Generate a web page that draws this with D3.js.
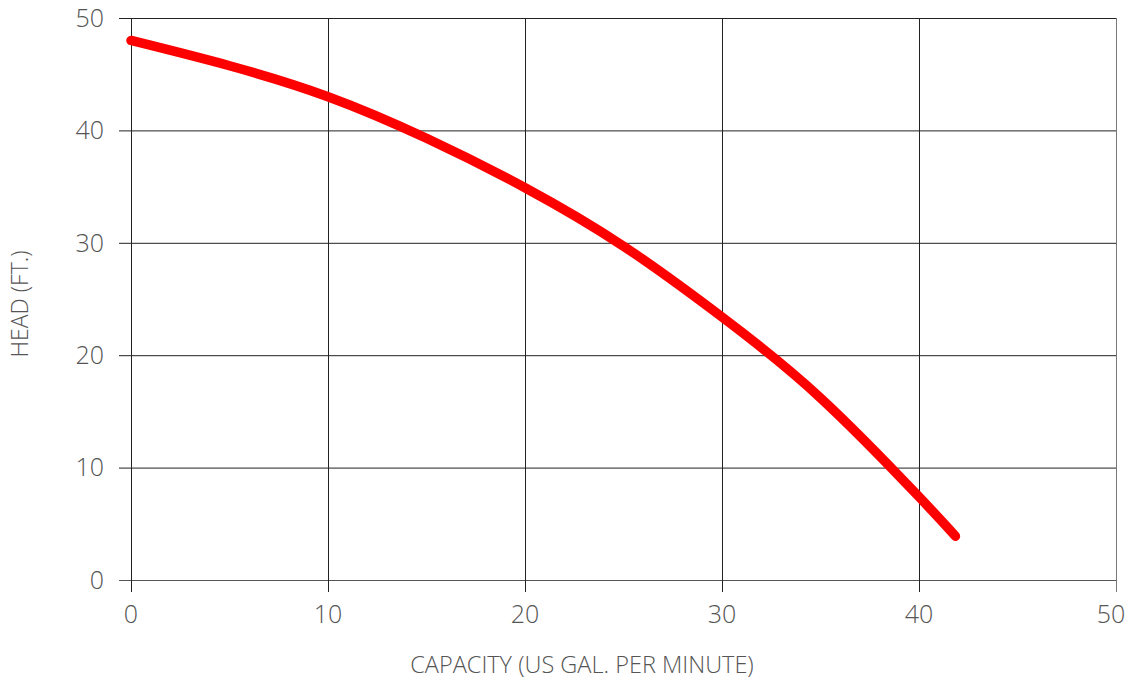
<!DOCTYPE html>
<html>
<head>
<meta charset="utf-8">
<script src="https://cdn.jsdelivr.net/npm/d3@7"></script>
<style>
  body { margin: 0; background: #fff; }
  text { font-family: "Open Sans", sans-serif; font-weight: 300; fill: #555; }
</style>
</head>
<body>
<svg></svg>
<script>
const width = 1130
const height = 685

// pump curve
const capacity = [0, 5, 10, 15, 20, 25, 30, 35, 40, 41.85]
const head = [48, 45.75, 43, 39.3, 34.9, 29.7, 23.4, 16.2, 7.4, 3.9]
const xTicks = [0, 10, 20, 30, 40, 50]
const yTicks = [0, 10, 20, 30, 40, 50]

const margin = { top: 18, right: 14, bottom: 105, left: 131 }

const svg = d3.select('svg')
  .attr('width', width)
  .attr('height', height)

const x = d3.scaleLinear().domain([0, 50]).range([margin.left, width - margin.right])
const y = d3.scaleLinear().domain([0, 50]).range([height - margin.bottom, margin.top])

// horizontal grid + y ticks
svg.append('g')
  .selectAll('line')
  .data(yTicks)
  .enter().append('line')
    .attr('x1', x(0) - 12)
    .attr('x2', x(50))
    .attr('y1', d => y(d) + 0.5)
    .attr('y2', d => y(d) + 0.5)
    .attr('stroke', d => d == 0 ? '#555' : '#222')
    .attr('stroke-width', 1)

// vertical grid + x ticks
svg.append('g')
  .selectAll('line')
  .data(xTicks)
  .enter().append('line')
    .attr('x1', d => x(d) + 0.5)
    .attr('x2', d => x(d) + 0.5)
    .attr('y1', y(50))
    .attr('y2', y(0) + 12)
    .attr('stroke', d => d == 50 ? '#777' : '#222')
    .attr('stroke-width', 1)

svg.append('g')
  .selectAll('text')
  .data(yTicks)
  .enter().append('text')
    .attr('x', x(0) - 27)
    .attr('y', d => y(d))
    .attr('dy', '0.35em')
    .attr('text-anchor', 'end')
    .attr('font-size', 25)
    .text(d => d)

svg.append('g')
  .selectAll('text')
  .data(xTicks)
  .enter().append('text')
    .attr('x', d => d == 50 ? x(d) - 5 : x(d))
    .attr('y', y(0) + 34)
    .attr('dy', '0.35em')
    .attr('text-anchor', 'middle')
    .attr('font-size', 25)
    .text(d => d)

svg.append('text')
  .attr('x', 582)
  .attr('y', 673)
  .attr('text-anchor', 'middle')
  .attr('font-size', 23.5)
  .text('CAPACITY (US GAL. PER MINUTE)')

svg.append('text')
  .attr('transform', `translate(28, ${(y(0) + y(50)) / 2 + 5}) rotate(-90)`)
  .attr('text-anchor', 'middle')
  .attr('font-size', 23)
  .text('HEAD (FT.)')

const line = d3.line()
  .x((d, i) => x(capacity[i]))
  .y(d => y(d))
  .curve(d3.curveNatural)

svg.append('path')
  .datum(head)
  .attr('d', line)
  .attr('fill', 'none')
  .attr('stroke', '#ff0000')
  .attr('stroke-width', 9.5)
  .attr('stroke-linecap', 'round')
  .attr('stroke-linejoin', 'round')
</script>
</body>
</html>
